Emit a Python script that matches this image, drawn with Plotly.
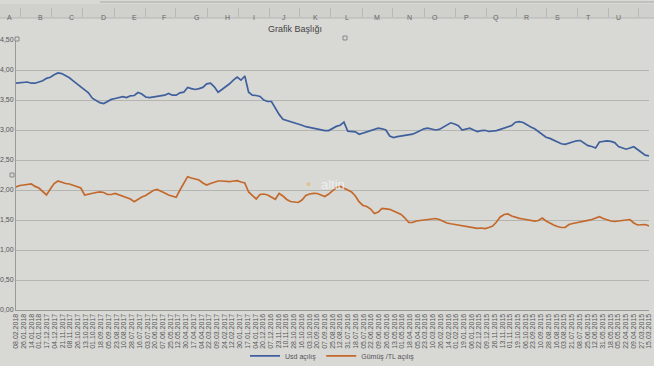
import plotly.graph_objects as go
import numpy as np

date_labels = [
    "08.02.2018", "26.01.2018", "14.01.2018", "01.01.2018",
    "17.12.2017", "04.12.2017", "21.11.2017", "08.11.2017", "26.10.2017", "13.10.2017", "01.10.2017",
    "18.09.2017", "05.09.2017", "23.08.2017", "10.08.2017", "28.07.2017", "16.07.2017", "03.07.2017",
    "20.06.2017", "07.06.2017", "25.05.2017", "12.05.2017", "30.04.2017", "17.04.2017", "04.04.2017",
    "22.03.2017", "09.03.2017", "24.02.2017", "12.02.2017", "30.01.2017", "17.01.2017", "04.01.2017",
    "20.12.2016", "07.12.2016", "23.11.2016", "10.11.2016", "28.10.2016", "16.10.2016", "03.10.2016",
    "20.09.2016", "07.09.2016", "25.08.2016", "12.08.2016", "31.07.2016", "18.07.2016", "05.07.2016",
    "22.06.2016", "09.06.2016", "26.05.2016", "13.05.2016", "01.05.2016", "18.04.2016", "05.04.2016",
    "23.03.2016", "10.03.2016", "26.02.2016", "14.02.2016", "01.02.2016", "19.01.2016", "06.01.2016",
    "22.12.2015", "09.12.2015", "26.11.2015", "13.11.2015", "01.11.2015", "19.10.2015", "06.10.2015",
    "23.09.2015", "10.09.2015", "28.08.2015", "16.08.2015", "03.08.2015", "21.07.2015", "08.07.2015",
    "25.06.2015", "12.06.2015", "31.05.2015", "18.05.2015", "05.05.2015", "22.04.2015", "09.04.2015",
    "27.03.2015", "15.03.2015",
]

usd_acilis = [
    3.78, 3.79, 3.80, 3.80, 3.78, 3.78, 3.80, 3.82, 3.86, 3.88,
    3.92, 3.95, 3.94, 3.91, 3.87, 3.82, 3.77, 3.71, 3.67, 3.62,
    3.53, 3.49, 3.455, 3.44, 3.475, 3.51, 3.525, 3.54, 3.555, 3.54,
    3.57, 3.575, 3.625, 3.60, 3.55, 3.54, 3.55, 3.56, 3.57, 3.58,
    3.61, 3.58, 3.58, 3.62, 3.63, 3.71, 3.69, 3.675, 3.69, 3.71,
    3.77, 3.78, 3.72, 3.63, 3.675, 3.72, 3.77, 3.83, 3.88, 3.83,
    3.90, 3.63, 3.58, 3.575, 3.56, 3.50, 3.475, 3.475, 3.37, 3.26,
    3.18, 3.16, 3.14, 3.125, 3.11, 3.08, 3.055, 3.04, 3.03, 3.01,
    3.00, 2.99, 2.99, 3.025, 3.06, 3.08, 3.13, 2.98, 2.97, 2.97,
    2.93, 2.95, 2.98, 3.00, 3.02, 3.03, 3.02, 3.00, 2.90, 2.875,
    2.89, 2.90, 2.91, 2.92, 2.93, 2.96, 2.99, 3.02, 3.03, 3.01,
    3.00, 3.01, 3.05, 3.09, 3.12, 3.10, 3.07, 3.00, 3.02, 3.03,
    3.00, 2.975, 2.99, 2.995, 2.975, 2.98, 2.99, 3.01, 3.03, 3.045,
    3.075, 3.13, 3.14, 3.125, 3.08, 3.05, 3.02, 2.975, 2.92, 2.88,
    2.86, 2.83, 2.80, 2.77, 2.76, 2.78, 2.80, 2.82, 2.825, 2.775,
    2.74, 2.725, 2.70, 2.80, 2.815, 2.82, 2.81, 2.79, 2.725, 2.70,
    2.68, 2.70, 2.72, 2.675, 2.625, 2.58, 2.57,
]

gumus_tl_acilis = [
    2.05, 2.075, 2.083, 2.09, 2.10, 2.06, 2.033, 1.975, 1.917, 2.017,
    2.108, 2.15, 2.125, 2.108, 2.10, 2.075, 2.055, 2.033, 1.917, 1.933,
    1.945, 1.958, 1.967, 1.958, 1.925, 1.925, 1.942, 1.917, 1.889, 1.875,
    1.85, 1.805, 1.85, 1.883, 1.908, 1.95, 1.992, 2.008, 1.983, 1.95,
    1.917, 1.90, 1.878, 2.00, 2.10, 2.222, 2.20, 2.183, 2.167, 2.117,
    2.083, 2.108, 2.133, 2.15, 2.15, 2.142, 2.138, 2.15, 2.155, 2.133,
    2.117, 1.967, 1.90, 1.85, 1.925, 1.933, 1.917, 1.883, 1.845, 1.942,
    1.90, 1.842, 1.808, 1.80, 1.792, 1.833, 1.908, 1.933, 1.945, 1.942,
    1.917, 1.892, 1.933, 1.992, 2.042, 2.058, 2.033, 2.00, 1.967, 1.90,
    1.80, 1.742, 1.725, 1.683, 1.608, 1.633, 1.692, 1.683, 1.678, 1.65,
    1.617, 1.592, 1.533, 1.458, 1.458, 1.483, 1.492, 1.50, 1.512, 1.522,
    1.525, 1.508, 1.475, 1.45, 1.437, 1.425, 1.417, 1.40, 1.392, 1.383,
    1.37, 1.362, 1.367, 1.358, 1.375, 1.40, 1.467, 1.55, 1.592, 1.60,
    1.567, 1.542, 1.528, 1.517, 1.508, 1.492, 1.483, 1.492, 1.533, 1.483,
    1.445, 1.417, 1.392, 1.375, 1.375, 1.425, 1.442, 1.458, 1.475, 1.483,
    1.495, 1.508, 1.533, 1.555, 1.525, 1.50, 1.483, 1.475, 1.48, 1.492,
    1.50, 1.508, 1.45, 1.417, 1.425, 1.425, 1.40,
]

column_letters = ["A", "B", "C", "D", "E", "F", "G", "H", "I", "J", "K",
                  "L", "M", "N", "O", "P", "Q", "R", "S", "T", "U"]

n_lab = len(date_labels)
xs_usd = np.linspace(0, n_lab - 1, len(usd_acilis))
xs_gum = np.linspace(0, n_lab - 1, len(gumus_tl_acilis))

BG = "#d8d8d5"
FONT = "Liberation Sans"

fig = go.Figure()
fig.add_trace(go.Scatter(x=xs_usd, y=usd_acilis, mode="lines", name="Usd açılış",
                         line=dict(color="#3f609c", width=1.7)))
fig.add_trace(go.Scatter(x=xs_gum, y=gumus_tl_acilis, mode="lines", name="Gümüş /TL açılış",
                         line=dict(color="#c4692c", width=1.7)))

W, H = 654, 366
ml, mr, mt, mb = 16, 5, 40, 56
pw = W - ml - mr
ph = H - mt - mb

def px_x(p):
    return (p - ml) / pw

def px_y(p):
    return (H - mb - p) / ph

annotations = []
shapes = []
# spreadsheet column header band
shapes.append(dict(type="rect", xref="paper", yref="paper", x0=px_x(0), x1=px_x(W),
                   y0=px_y(18), y1=px_y(4), fillcolor="#d0d0cd", line=dict(width=0), layer="below"))
shapes.append(dict(type="line", xref="paper", yref="paper", x0=px_x(0), x1=px_x(W),
                   y0=px_y(18), y1=px_y(18), line=dict(color="#b5b5b2", width=1)))
shapes.append(dict(type="line", xref="paper", yref="paper", x0=px_x(100), x1=px_x(W),
                   y0=px_y(2), y1=px_y(2), line=dict(color="#a9a9a6", width=1)))
col_x = [5, 36, 67, 99, 130, 160, 192, 223, 254, 284, 315,
         347, 377, 409, 440, 471, 501, 531, 562, 593, 623]
for i, (c, cx) in enumerate(zip(column_letters, col_x)):
    annotations.append(dict(text=c, xref="paper", yref="paper", x=px_x(cx), y=px_y(12),
                            showarrow=False, font=dict(size=7, color="#666", family=FONT)))
    sx = cx + 15.5
    shapes.append(dict(type="line", xref="paper", yref="paper", x0=px_x(sx), x1=px_x(sx),
                       y0=px_y(17), y1=px_y(8), line=dict(color="#b8b8b5", width=1)))

# title
annotations.append(dict(text="Grafik Başlığı", xref="paper", yref="paper", x=px_x(295), y=px_y(22),
                        showarrow=False, font=dict(size=9, color="#444", family=FONT)))
# watermark
annotations.append(dict(text="altin", xref="paper", yref="paper", x=px_x(333), y=px_y(184),
                        showarrow=False, font=dict(size=13, color="rgba(245,245,245,0.85)", family=FONT)))
annotations.append(dict(text="●", xref="paper", yref="paper", x=px_x(308), y=px_y(184),
                        showarrow=False, font=dict(size=9, color="rgba(235,175,80,0.55)", family=FONT)))

# selection handles
for hx, hy in [(17, 39), (345, 38), (12, 175)]:
    shapes.append(dict(type="rect", xref="paper", yref="paper", x0=px_x(hx - 2), x1=px_x(hx + 2),
                       y0=px_y(hy + 2), y1=px_y(hy - 2), fillcolor=BG, line=dict(color="#888", width=1)))

fig.update_layout(
    width=W, height=H,
    margin=dict(l=ml, r=mr, t=mt, b=mb, autoexpand=False),
    paper_bgcolor=BG, plot_bgcolor=BG,
    separators=",.",
    font=dict(family=FONT, size=7, color="#555"),
    showlegend=True,
    legend=dict(orientation="h", x=0.5, xanchor="center", y=-0.17, yanchor="middle",
                font=dict(size=7, color="#555"), bgcolor="rgba(0,0,0,0)",
                itemwidth=30, tracegroupgap=0),
    annotations=annotations,
    shapes=shapes,
    xaxis=dict(range=[0, n_lab - 1], tickmode="array", tickvals=list(range(n_lab)),
               ticktext=date_labels, tickangle=-90, showgrid=False, zeroline=False,
               showline=True, linecolor="#9a9a97", linewidth=1, ticks="", automargin=False,
               tickfont=dict(size=7, color="#555", family=FONT)),
    yaxis=dict(range=[0, 4.5], dtick=0.5, tick0=0, tickformat=".2f", showgrid=True,
               gridcolor="#b4b4b1", gridwidth=1, zeroline=False, showline=True,
               linecolor="#9a9a97", linewidth=1, ticks="", automargin=False,
               tickfont=dict(size=7, color="#555", family=FONT)),
)

fig.write_html("out.html", config={"displayModeBar": False},
               post_script="document.body.style.margin='0px';document.body.style.overflow='hidden';document.body.style.background='%s';" % BG)
